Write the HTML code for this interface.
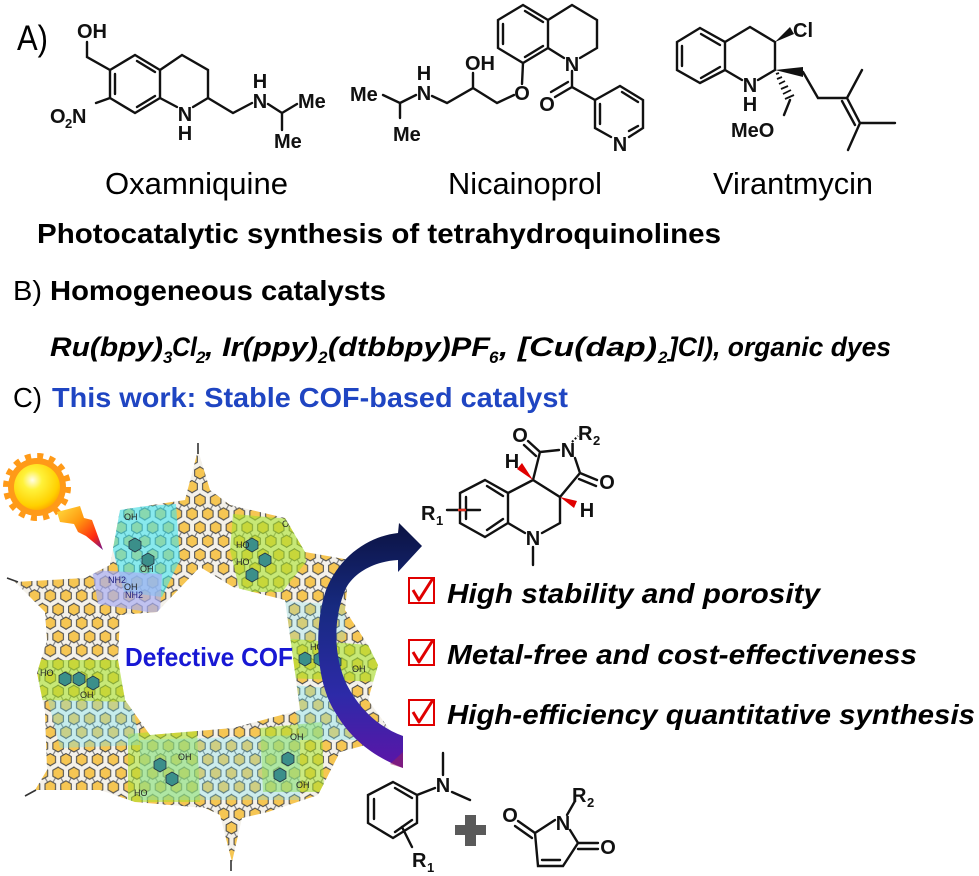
<!DOCTYPE html>
<html><head><meta charset="utf-8"><style>
html,body{margin:0;padding:0;background:#fff;width:979px;height:876px;overflow:hidden}
svg{display:block}
.t{font-family:"Liberation Sans",Arial,sans-serif}
.b{font-family:"Liberation Sans",Arial,sans-serif;font-weight:bold}
.bi{font-family:"Liberation Sans",Arial,sans-serif;font-weight:bold;font-style:italic}
.lab{font-family:"Liberation Sans",Arial,sans-serif;font-weight:bold;font-size:20px;fill:#111}
.sm{font-family:"Liberation Sans",Arial,sans-serif;font-size:9px;fill:#222}
</style></head><body>
<svg width="979" height="876" viewBox="0 0 979 876" xmlns="http://www.w3.org/2000/svg">
<defs>
<pattern id="hex" width="12.12" height="21" patternUnits="userSpaceOnUse" patternTransform="translate(3,2) scale(1.3)">
<rect width="12.12" height="21" fill="#f4f1ea"/>
<path d="M6.06,5.25L0,15.75M6.06,5.25L12.12,15.75M6.06,5.25V-5M0,15.75V26M12.12,15.75V26" stroke="#7a7a7a" stroke-width="0.9"/>
<polygon points="6.06,0.6 10.1,2.9 10.1,7.6 6.06,9.9 2.0,7.6 2.0,2.9" fill="#f6c653" stroke="#4a4a4a" stroke-width="0.8"/>
<polygon points="0,11.1 4.04,13.4 4.04,18.1 0,20.4 -4.04,18.1 -4.04,13.4" fill="#f6c653" stroke="#4a4a4a" stroke-width="0.8"/>
<polygon points="12.12,11.1 16.16,13.4 16.16,18.1 12.12,20.4 8.08,18.1 8.08,13.4" fill="#f6c653" stroke="#4a4a4a" stroke-width="0.8"/>
</pattern>
<clipPath id="cofclip">
<path clip-rule="evenodd" d="M198,450 L210,490 L230,505 L285,518 L305,552 L350,560 L345,610 L368,645 L378,665 L368,700 L395,737 L340,752 L318,795 L268,812 L242,818 L232,862 L220,815 L205,808 L135,802 L100,790 L35,790 L47,770 L45,712 L37,673 L47,640 L45,612 L15,582 L85,578 L110,565 L120,510 L185,500 Z M120,615 L157,612 L200,567 L233,587 L285,600 L292,650 L300,710 L233,728 L150,735 L125,700 L118,660 Z"/>
</clipPath>
<radialGradient id="sun" cx="0.4" cy="0.35" r="0.7">
<stop offset="0" stop-color="#fffde8"/>
<stop offset="0.3" stop-color="#fff23a"/>
<stop offset="0.8" stop-color="#ffd000"/>
<stop offset="1" stop-color="#ffa500"/>
</radialGradient>
<linearGradient id="bolt" x1="0" y1="0" x2="1" y2="1">
<stop offset="0" stop-color="#ffe040"/>
<stop offset="0.4" stop-color="#ff9a10"/>
<stop offset="0.75" stop-color="#ff2a10"/>
<stop offset="1" stop-color="#6a1090"/>
</linearGradient>
<linearGradient id="arr" gradientUnits="userSpaceOnUse" x1="0" y1="520" x2="0" y2="770">
<stop offset="0" stop-color="#0b1240"/>
<stop offset="0.35" stop-color="#172a80"/>
<stop offset="0.7" stop-color="#2d2aa8"/>
<stop offset="1" stop-color="#5e14a8"/>
</linearGradient>
</defs>

<!-- ===== Section A ===== -->
<text class="t" x="17" y="50" font-size="35" textLength="31" lengthAdjust="spacingAndGlyphs">A)</text>

<g stroke="#111" stroke-width="2.4" fill="none" stroke-linecap="round">
<!-- Oxamniquine -->
<path d="M135,55L160,70L160,98L135,113L110,98L110,70Z"/>
<path d="M115,74L115,94M137,61L155,72M155,96L137,107"/>
<path d="M160,70L182,55L208,70L208,98L193,107M177,107L160,98"/>
<path d="M208,98L233,113L252,103M268,104L282,113L297,104M282,113L282,130"/>
<path d="M110,70L87,57L87,42M96,103L110,98"/>
<!-- Nicainoprol -->
<path d="M383,95L400,103L400,118M400,103L416,95M432,96L447,103L473,88L473,73M473,88L497,103L514,95M522,84L523,63"/>
<path d="M523,5L548,20L548,48L523,63L498,48L498,20Z"/>
<path d="M503,24L503,44M525,11L543,22M543,46L525,57"/>
<path d="M548,20L572,5L597,20L597,48L580,58M564,58L548,48"/>
<path d="M572,71L572,87L595,100M572,87L555,97M568,82L551,92"/>
<path d="M595,100L620,86L643,100L643,128L629,137M611,137L595,128L595,100"/>
<path d="M622,92L638,102M600,104L600,124M638,126L629,131"/>
<!-- Virantmycin -->
<path d="M700,28L725,42L725,70L700,83L677,70L677,42Z"/>
<path d="M682,46L682,66M701,34L720,45M720,67L701,78"/>
<path d="M725,42L750,27L775,42L775,70L758,80M742,80L725,70"/>
<path d="M803,72L818,98L847,98L862,70M847,98L860,123L895,123M860,123L848,150M842,101L855,125"/>
<path d="M790,100L784,115"/>
</g>
<polygon points="775,42 790,27 794,34" fill="#111"/>
<polygon points="775,70 803,67 803,77" fill="#111"/>
<g stroke="#111" stroke-width="1.8">
<path d="M776,74L779,73M777,79L782,77M779,84L785,81M781,89L788,86M783,94L791,90M785,99L794,95"/>
</g>

<g class="lab">
<text x="77" y="38">OH</text>
<text x="50" y="123">O</text><text x="65" y="128" font-size="13">2</text><text x="72" y="123">N</text>
<text x="185" y="121" text-anchor="middle">N</text>
<text x="185" y="140" text-anchor="middle">H</text>
<text x="260" y="108" text-anchor="middle">N</text>
<text x="260" y="88" text-anchor="middle">H</text>
<text x="298" y="108">Me</text>
<text x="274" y="148">Me</text>
<text x="350" y="101">Me</text>
<text x="393" y="141">Me</text>
<text x="424" y="100" text-anchor="middle">N</text>
<text x="424" y="80" text-anchor="middle">H</text>
<text x="465" y="70">OH</text>
<text x="522" y="100" text-anchor="middle">O</text>
<text x="572" y="71" text-anchor="middle">N</text>
<text x="547" y="111" text-anchor="middle">O</text>
<text x="620" y="151" text-anchor="middle">N</text>
<text x="793" y="37">Cl</text>
<text x="750" y="92" text-anchor="middle">N</text>
<text x="750" y="111" text-anchor="middle">H</text>
<text x="731" y="137">MeO</text>
</g>

<text class="t" x="105" y="194" font-size="31" textLength="183" lengthAdjust="spacingAndGlyphs">Oxamniquine</text>
<text class="t" x="448" y="194" font-size="31" textLength="154" lengthAdjust="spacingAndGlyphs">Nicainoprol</text>
<text class="t" x="713" y="194" font-size="31" textLength="160" lengthAdjust="spacingAndGlyphs">Virantmycin</text>

<text class="b" x="37" y="243" font-size="28" textLength="684" lengthAdjust="spacingAndGlyphs">Photocatalytic synthesis of tetrahydroquinolines</text>

<!-- ===== Section B ===== -->
<text class="t" x="13" y="300" font-size="28" textLength="29" lengthAdjust="spacingAndGlyphs">B)</text>
<text class="b" x="50" y="300" font-size="28" textLength="336" lengthAdjust="spacingAndGlyphs">Homogeneous catalysts</text>

<g class="bi" font-size="27">
<text x="50" y="356" textLength="113" lengthAdjust="spacingAndGlyphs">Ru(bpy)</text>
<text x="163" y="363" font-size="17">3</text>
<text x="172" y="356" textLength="25" lengthAdjust="spacingAndGlyphs">Cl</text>
<text x="196" y="363" font-size="17">2</text>
<text x="205" y="356" textLength="113" lengthAdjust="spacingAndGlyphs">, Ir(ppy)</text>
<text x="318" y="363" font-size="17">2</text>
<text x="328" y="356" textLength="162" lengthAdjust="spacingAndGlyphs">(dtbbpy)PF</text>
<text x="489" y="363" font-size="17">6</text>
<text x="499" y="356" textLength="158" lengthAdjust="spacingAndGlyphs">, [Cu(dap)</text>
<text x="658" y="363" font-size="17">2</text>
<text x="669" y="356" textLength="222" lengthAdjust="spacingAndGlyphs">]Cl), organic dyes</text>
</g>

<!-- ===== Section C ===== -->
<text class="t" x="13" y="407" font-size="28" textLength="29" lengthAdjust="spacingAndGlyphs">C)</text>
<text class="b" x="52" y="407" font-size="28" fill="#1f45c2" textLength="516" lengthAdjust="spacingAndGlyphs">This work: Stable COF-based catalyst</text>

<!-- Sun -->
<circle cx="37" cy="487" r="29" fill="#ff9a18"/>
<circle cx="37" cy="487" r="31" fill="none" stroke="#ff9a18" stroke-width="6" stroke-dasharray="6 6.17"/>
<circle cx="37" cy="487" r="23" fill="url(#sun)"/>
<polygon points="57,512 80,506 84,518 92,520 103,550 86,536 78,532 74,524 60,522" fill="url(#bolt)"/>

<!-- COF framework -->
<g clip-path="url(#cofclip)">
<rect x="0" y="440" width="420" height="436" fill="url(#hex)"/>
<polygon points="118,508 176,504 180,560 162,597 124,592 113,550" fill="#3fe4ee" opacity="0.6"/>
<polygon points="92,570 162,574 160,614 98,604" fill="#a9aef2" opacity="0.7"/>
<polygon points="233,514 302,520 306,562 282,592 240,592 230,550" fill="#a8e22a" opacity="0.6"/>
<polygon points="38,660 132,660 134,702 38,700" fill="#a8e22a" opacity="0.6"/>
<polygon points="284,638 380,646 380,682 288,678" fill="#a8e22a" opacity="0.6"/>
<polygon points="128,734 197,728 200,802 128,802" fill="#a8e22a" opacity="0.55"/>
<polygon points="260,728 322,722 324,792 263,792" fill="#a8e22a" opacity="0.55"/>
<polygon points="48,700 132,702 140,745 60,748" fill="#6fe2f2" opacity="0.35"/>
<polygon points="140,740 300,735 300,800 140,800" fill="#6fe2f2" opacity="0.3"/>
<polygon points="292,685 350,690 360,740 300,740" fill="#6fe2f2" opacity="0.35"/>
<polygon points="270,600 345,605 345,640 285,640" fill="#6fe2f2" opacity="0.25"/>
<g fill="#3b8f8a" stroke="#234" stroke-width="0.8">
<polygon points="135,538 141,541.5 141,548.5 135,552 129,548.5 129,541.5"/>
<polygon points="148,553 154,556.5 154,563.5 148,567 142,563.5 142,556.5"/>
<polygon points="252,538 258,541.5 258,548.5 252,552 246,548.5 246,541.5"/>
<polygon points="265,553 271,556.5 271,563.5 265,567 259,563.5 259,556.5"/>
<polygon points="252,568 258,571.5 258,578.5 252,582 246,578.5 246,571.5"/>
<polygon points="65,672 71,675.5 71,682.5 65,686 59,682.5 59,675.5"/>
<polygon points="79,672 85,675.5 85,682.5 79,686 73,682.5 73,675.5"/>
<polygon points="93,676 99,679.5 99,686.5 93,690 87,686.5 87,679.5"/>
<polygon points="305,652 311,655.5 311,662.5 305,666 299,662.5 299,655.5"/>
<polygon points="320,652 326,655.5 326,662.5 320,666 314,662.5 314,655.5"/>
<polygon points="335,655 341,658.5 341,665.5 335,669 329,665.5 329,658.5"/>
<polygon points="160,758 166,761.5 166,768.5 160,772 154,768.5 154,761.5"/>
<polygon points="172,772 178,775.5 178,782.5 172,786 166,782.5 166,775.5"/>
<polygon points="288,752 294,755.5 294,762.5 288,766 282,762.5 282,755.5"/>
<polygon points="280,768 286,771.5 286,778.5 280,782 274,778.5 274,771.5"/>
</g>
<g class="sm">
<text x="124" y="520">OH</text><text x="124" y="590">OH</text><text x="140" y="572">OH</text>
<text x="282" y="527">OH</text><text x="236" y="548">HO</text><text x="236" y="565">HO</text>
<text x="40" y="676">HO</text><text x="80" y="698">OH</text>
<text x="352" y="672">OH</text><text x="310" y="650">HO</text>
<text x="134" y="796">HO</text><text x="178" y="760">OH</text>
<text x="296" y="788">OH</text><text x="290" y="740">OH</text>
<text x="108" y="583" fill="#202080">NH2</text><text x="125" y="598" fill="#202080">NH2</text>
</g>
</g>
<g stroke="#333" stroke-width="1.6">
<path d="M198,443L198,454M231,860L231,871M7,578L18,582M25,796L36,790"/>
</g>

<text class="b" x="125" y="666" font-size="26" fill="#1818d4" textLength="168" lengthAdjust="spacingAndGlyphs">Defective COF</text>

<!-- curved arrow -->
<path d="M398,533 C370,536 340,555 326,590 C314,625 315,680 335,712 C350,738 372,756 403,768 L403,736 C380,728 360,710 347,685 C334,658 332,620 346,588 C356,570 378,561 398,560 L398,572 L422,546 L399,523 Z" fill="url(#arr)"/>
<path d="M403,752 L403,768 L390,764 Z" fill="#a0205a" opacity="0.5"/>

<!-- Product -->
<g stroke="#111" stroke-width="2.4" fill="none" stroke-linecap="round">
<path d="M485,480L508,493L508,523L485,537L460,523L460,493Z"/>
<path d="M487,486L503,496M503,519L487,530M466,497L466,519"/>
<path d="M508,493L533,480L540,452L559,450M540,452L528,441M536,456L524,445"/>
<path d="M575,458L580,473L560,497L533,480M580,473L597,480M579,479L596,486"/>
<path d="M560,497L560,523L542,533M525,533L508,523M533,547L533,565"/>
<path d="M447,510L480,510"/>
</g>
<path d="M572,442L578,436" stroke="#111" stroke-width="2" stroke-dasharray="2 2"/>
<path d="M458,510L466,510" stroke="#e03020" stroke-width="2.4"/>
<polygon points="533,480 517,469 522,463" fill="#e00000"/>
<polygon points="560,497 577,501 574,508" fill="#e00000"/>
<g class="lab">
<text x="520" y="442" text-anchor="middle">O</text>
<text x="568" y="457" text-anchor="middle">N</text>
<text x="578" y="440">R</text><text x="593" y="445" font-size="13">2</text>
<text x="607" y="489" text-anchor="middle">O</text>
<text x="512" y="468" text-anchor="middle">H</text>
<text x="587" y="517" text-anchor="middle">H</text>
<text x="533" y="545" text-anchor="middle">N</text>
<text x="421" y="520">R</text><text x="436" y="525" font-size="13">1</text>
</g>

<!-- Checklist -->
<g stroke="#e00000" fill="none">
<rect x="409" y="578" width="25" height="25" stroke-width="2"/>
<rect x="409" y="640" width="25" height="25" stroke-width="2"/>
<rect x="409" y="700" width="25" height="25" stroke-width="2"/>
<path d="M413,590L419,600L433,578M413,652L419,662L433,640M413,712L419,722L433,700" stroke-width="3" stroke-linejoin="round"/>
</g>
<text class="bi" x="447" y="603" font-size="28" textLength="373" lengthAdjust="spacingAndGlyphs">High stability and porosity</text>
<text class="bi" x="447" y="664" font-size="28" textLength="470" lengthAdjust="spacingAndGlyphs">Metal-free and cost-effectiveness</text>
<text class="bi" x="447" y="724" font-size="28" textLength="528" lengthAdjust="spacingAndGlyphs">High-efficiency quantitative synthesis</text>

<!-- Reactants -->
<g stroke="#111" stroke-width="2.4" fill="none" stroke-linecap="round">
<path d="M393,782L417,795L417,823L393,838L368,823L368,795Z"/>
<path d="M395,788L412,798M412,820L395,832M374,799L374,819"/>
<path d="M417,795L435,788M443,753L443,775M452,792L470,800M402,827L412,847"/>
<path d="M555,820L535,833L538,866L563,866L578,843L570,830"/>
<path d="M542,860L560,860M535,833L518,821M532,838L515,826M578,843L598,843M578,849L598,849M567,815L575,801"/>
</g>
<g fill="#5a5a5a">
<rect x="455" y="825" width="31" height="10"/>
<rect x="465" y="815" width="11" height="31"/>
</g>
<g class="lab">
<text x="443" y="792" text-anchor="middle">N</text>
<text x="412" y="867">R</text><text x="427" y="872" font-size="13">1</text>
<text x="563" y="830" text-anchor="middle">N</text>
<text x="572" y="802">R</text><text x="587" y="807" font-size="13">2</text>
<text x="510" y="822" text-anchor="middle">O</text>
<text x="608" y="854" text-anchor="middle">O</text>
</g>
</svg>
</body></html>
